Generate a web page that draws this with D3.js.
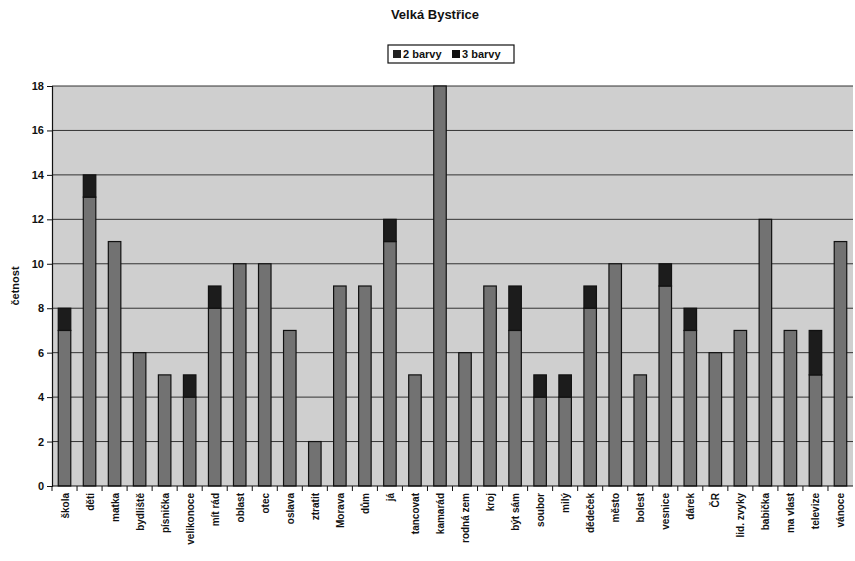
<!DOCTYPE html>
<html><head><meta charset="utf-8">
<script src="https://cdn.jsdelivr.net/npm/d3@7"></script>
<style>body{margin:0;background:#fff}svg{font-family:"Liberation Sans",Arial,sans-serif}</style>
</head><body><svg id="c" width="855" height="561"></svg>
<script>
const categories = ["škola","děti","matka","bydliště","písnička","velikonoce","mít rád","oblast","otec","oslava","ztratit","Morava","dům","já","tancovat","kamarád","rodná zem","kroj","být sám","soubor","milý","dědeček","město","bolest","vesnice","dárek","ČR","lid. zvyky","babička","ma vlast","televize","vánoce"];
const barvy2 = [7,13,11,6,5,4,8,10,10,7,2,9,9,11,5,18,6,9,7,4,4,8,10,5,9,7,6,7,12,7,5,11];
const barvy3 = [1,1,0,0,0,1,1,0,0,0,0,0,0,1,0,0,0,0,2,1,1,1,0,0,1,1,0,0,0,0,2,0];
const seriesNames = ["2 barvy","3 barvy"];
const yTicks = [0,2,4,6,8,10,12,14,16,18];

const svg = d3.select("#c");
const m = {l:52, r:2, t:86, b:74};
const W = 855, H = 561;
const x = d3.scaleBand().domain(categories).range([m.l, W-m.r]).paddingInner(0.5).paddingOuter(0.25);
const y = d3.scaleLinear().domain([0,18]).range([H-m.b-1, m.t]);

// plot background
svg.append("rect").attr("x",m.l).attr("y",m.t).attr("width",W-m.r-m.l).attr("height",y(0)-m.t).attr("fill","#cfcfcf");

// gridlines
svg.append("g").selectAll("line").data(yTicks.filter(d=>d>0)).join("line")
  .attr("x1",m.l).attr("x2",W-m.r).attr("y1",d=>y(d)).attr("y2",d=>y(d))
  .attr("stroke","#333").attr("stroke-width",1);

// bars
const stack = d3.stack().keys([0,1]).value((d,k)=>d[k])(categories.map((c,i)=>[barvy2[i],barvy3[i]]));
const colors = ["#727272","#1c1c1c"];
stack.forEach((s,k)=>{
  svg.append("g").selectAll("rect").data(s.map((d,i)=>({d,i}))).join("rect")
    .filter(o=>o.d[1]-o.d[0]>0)
    .attr("x",o=>x(categories[o.i])).attr("width",x.bandwidth())
    .attr("y",o=>y(o.d[1])).attr("height",o=>y(o.d[0])-y(o.d[1]))
    .attr("fill",colors[k]).attr("stroke","#111").attr("stroke-width",1.2);
});

// y axis
const ya = svg.append("g").attr("transform",`translate(${m.l},0)`)
  .call(d3.axisLeft(y).tickValues(yTicks).tickSize(5).tickPadding(3));
ya.select(".domain").attr("stroke","#111").attr("stroke-width",1.2);
ya.selectAll(".tick line").attr("stroke","#111");
ya.selectAll("text").attr("font-size",11).attr("fill","#111").attr("font-weight","bold");

// x axis
const xa = svg.append("g").attr("transform",`translate(0,${y(0)})`);
xa.append("line").attr("x1",m.l).attr("x2",W-m.r).attr("stroke","#111").attr("stroke-width",1.2);
xa.selectAll(".tk").data(categories).join("line").attr("class","tk")
  .attr("x1",d=>x(d)-x.step()*x.paddingInner()/2).attr("x2",d=>x(d)-x.step()*x.paddingInner()/2)
  .attr("y1",0).attr("y2",5).attr("stroke","#111");
xa.selectAll(".lb").data(categories).join("text").attr("class","lb")
  .attr("transform",d=>`translate(${x(d)+x.bandwidth()/2+4},7) rotate(-90)`)
  .attr("text-anchor","end").attr("font-size",10).attr("font-weight","bold").attr("fill","#111")
  .text(d=>d);

// y title
svg.append("text").attr("transform","translate(19,286) rotate(-90)").attr("text-anchor","middle")
  .attr("font-size",11).attr("font-weight","bold").attr("fill","#111").text("četnost");

// title
svg.append("text").attr("x",435).attr("y",19).attr("text-anchor","middle")
  .attr("font-size",13).attr("font-weight","bold").attr("fill","#111").text("Velká Bystřice");

// legend
const lg = svg.append("g");
lg.append("rect").attr("x",388).attr("y",45).attr("width",126).attr("height",18).attr("fill","#fff").attr("stroke","#111").attr("stroke-width",1.2);
const lx = [393, 452];
seriesNames.forEach((n,k)=>{
  lg.append("rect").attr("x",lx[k]).attr("y",50).attr("width",8).attr("height",8).attr("fill",k?"#111":"#222");
  lg.append("text").attr("x",lx[k]+10).attr("y",58).attr("font-size",11).attr("font-weight","bold").attr("fill","#111").text(n);
});
</script></body></html>
